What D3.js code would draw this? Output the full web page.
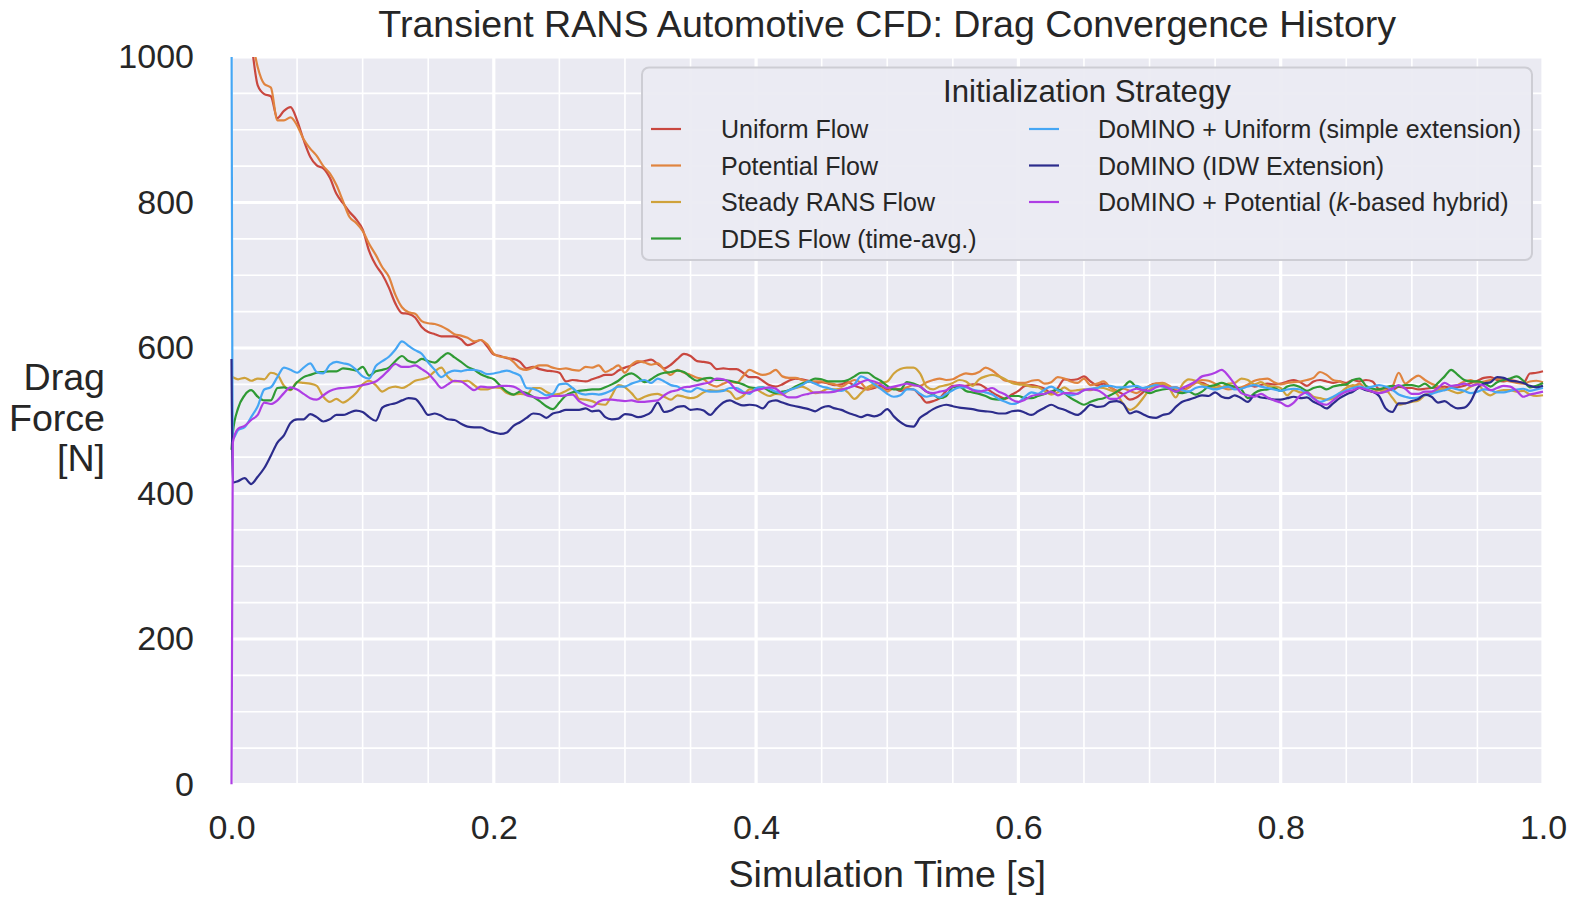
<!DOCTYPE html>
<html><head><meta charset="utf-8">
<script src="https://cdn.jsdelivr.net/npm/d3@7"></script>
<style>
body{margin:0;background:#fff}
svg{display:block}
text{font-family:"Liberation Sans",Arial,Helvetica,sans-serif;fill:#262626}
</style>
</head><body>
<svg id="chart" width="1578" height="902"></svg>
<script>
// ---------------- DATA ----------------
const time = [0,0.001,
0.005,0.01,0.015,0.02,0.025,0.03,0.035,0.04,0.045,0.05,
0.055,0.06,0.065,0.07,0.075,0.08,0.085,0.09,0.095,0.1,
0.105,0.11,0.115,0.12,0.125,0.13,0.135,0.14,0.145,0.15,
0.155,0.16,0.165,0.17,0.175,0.18,0.185,0.19,0.195,0.2,
0.205,0.21,0.215,0.22,0.225,0.23,0.235,0.24,0.245,0.25,
0.255,0.26,0.265,0.27,0.275,0.28,0.285,0.29,0.295,0.3,
0.305,0.31,0.315,0.32,0.325,0.33,0.335,0.34,0.345,0.35,
0.355,0.36,0.365,0.37,0.375,0.38,0.385,0.39,0.395,0.4,
0.405,0.41,0.415,0.42,0.425,0.43,0.435,0.44,0.445,0.45,
0.455,0.46,0.465,0.47,0.475,0.48,0.485,0.49,0.495,0.5,
0.505,0.51,0.515,0.52,0.525,0.53,0.535,0.54,0.545,0.55,
0.555,0.56,0.565,0.57,0.575,0.58,0.585,0.59,0.595,0.6,
0.605,0.61,0.615,0.62,0.625,0.63,0.635,0.64,0.645,0.65,
0.655,0.66,0.665,0.67,0.675,0.68,0.685,0.69,0.695,0.7,
0.705,0.71,0.715,0.72,0.725,0.73,0.735,0.74,0.745,0.75,
0.755,0.76,0.765,0.77,0.775,0.78,0.785,0.79,0.795,0.8,
0.805,0.81,0.815,0.82,0.825,0.83,0.835,0.84,0.845,0.85,
0.855,0.86,0.865,0.87,0.875,0.88,0.885,0.89,0.895,0.9,
0.905,0.91,0.915,0.92,0.925,0.93,0.935,0.94,0.945,0.95,
0.955,0.96,0.965,0.97,0.975,0.98,0.985,0.99,0.995,1.0];

const uniformFlow = [1150,1140,
1110,1070,1020,961,949,946,916,926,931,913,
886,863,851,847,834,812,799,787,777,763,
733,714,701,683,661,648,647,642,629,622,
619,616,616,616,612,604,607,611,602,591,
589,586,585,581,572,574,571,569,568,566,
554,556,555,554,557,560,563,563,569,573,
576,580,582,584,578,572,577,585,592,589,
582,581,579,571,572,571,571,566,560,560,
555,549,547,550,555,558,557,555,552,553,
551,549,550,553,548,545,543,545,548,543,
545,541,544,543,535,525,527,531,541,548,
548,548,550,550,545,539,534,530,536,541,
548,549,547,544,538,545,557,556,557,561,
554,549,551,546,541,536,529,532,539,548,
551,550,545,546,543,546,553,552,548,545,
546,547,545,545,549,547,549,551,550,551,
554,556,553,548,554,556,554,552,554,552,
556,554,556,554,544,544,542,547,545,545,
543,544,545,546,547,545,546,548,552,555,
559,560,556,554,556,554,552,565,566,568];

const potentialFlow = [1180,1170,
1126,1081,1031,986,963,958,913,913,917,906,
887,874,864,850,840,824,802,780,772,761,
743,728,711,698,673,656,649,647,637,634,
633,630,625,619,617,614,609,611,605,592,
588,587,581,572,570,573,576,576,573,571,
572,570,569,574,573,576,567,571,576,566,
577,582,580,577,579,570,563,570,566,563,
559,557,550,547,551,554,552,561,570,566,
563,565,570,561,559,559,556,554,554,554,
552,550,547,552,556,552,543,547,545,540,
545,543,546,549,548,553,556,558,556,557,
562,565,564,567,573,569,562,555,554,552,
552,555,556,551,553,560,558,554,552,558,
549,551,554,546,541,544,541,538,543,548,
551,552,548,542,541,546,552,556,555,551,
546,543,544,546,550,555,557,558,553,550,
552,553,554,556,559,567,563,556,554,549,
547,551,543,540,542,540,546,566,551,557,
562,556,551,547,542,547,549,554,556,552,
554,556,558,556,554,552,551,554,555,553];

const steadyRans = [561,560,
557,559,555,558,557,566,563,548,542,553,
552,551,548,533,526,530,525,530,538,550,
555,549,540,545,547,545,549,555,557,560,
568,573,560,554,554,555,549,543,543,546,
545,538,536,537,536,545,545,540,536,537,
541,545,530,529,527,523,522,535,549,546,
538,529,533,536,537,533,529,535,533,531,
533,539,542,541,542,540,530,534,543,543,
538,534,537,536,542,545,547,543,538,540,
544,543,544,539,530,538,546,550,552,554,
565,571,573,573,565,547,543,547,549,552,
556,554,548,557,561,563,561,557,552,550,
549,547,546,541,536,539,546,541,542,543,
542,546,545,542,537,523,515,520,531,543,
547,551,545,532,550,557,555,550,548,546,
546,551,552,558,556,550,553,548,547,545,
535,542,539,539,533,531,529,531,538,545,
549,547,543,540,538,542,532,522,524,526,
528,535,539,542,544,541,538,541,547,551,
540,535,540,542,542,540,541,536,534,535];

const ddesFlow = [460,483,
517,535,542,533,528,528,545,546,543,553,
560,563,566,567,568,568,572,571,569,574,
562,568,570,573,582,589,582,580,585,582,
580,587,593,587,581,574,570,564,560,557,
548,540,536,540,538,533,527,520,516,525,
535,539,541,542,543,543,546,550,555,562,
565,560,553,557,563,566,567,569,567,560,
555,558,559,556,556,555,553,550,546,545,
546,541,538,540,542,547,551,554,558,557,
554,554,554,556,561,566,566,560,555,548,
543,543,553,551,547,540,536,531,534,546,
547,541,539,537,534,530,529,531,534,534,
531,531,534,537,540,543,538,531,526,522,
526,529,531,535,540,546,554,546,542,538,
541,543,544,540,538,540,536,540,547,549,
552,549,547,543,531,538,542,543,545,541,
547,549,546,541,545,547,543,547,549,550,
556,558,548,544,543,546,548,547,549,549,
547,551,545,552,561,570,563,556,554,554,
552,547,553,556,558,561,555,546,548,552];

const dominoUniform = [1100,475,
487,491,505,520,543,546,560,573,570,566,
573,579,567,565,577,581,579,577,570,561,
558,575,582,588,598,609,603,597,592,580,
570,560,566,569,568,570,570,568,564,565,
567,569,566,562,545,544,540,535,537,550,
551,545,538,536,537,536,538,542,547,547,
551,554,556,552,558,554,549,547,542,540,
545,542,540,540,541,545,545,540,537,545,
546,544,540,538,542,545,549,554,551,547,
545,542,541,545,550,561,557,550,544,537,
533,535,543,543,537,533,535,532,537,542,
546,546,543,541,539,536,530,526,523,525,
533,539,537,543,547,542,538,535,537,542,
544,545,548,548,546,546,547,548,545,547,
549,547,545,546,542,540,545,547,545,543,
545,547,543,544,547,549,547,545,543,541,
543,544,543,537,531,526,529,533,538,542,
545,547,545,547,549,547,543,536,533,531,
532,535,537,540,542,545,543,541,538,540,
543,542,539,539,541,543,544,541,543,545];

const dominoIdw = [585,415,
417,421,413,423,435,452,470,480,497,502,
502,509,505,499,502,508,508,511,514,512,
505,500,518,522,524,528,531,530,520,508,
510,507,502,501,496,492,491,491,487,484,
482,484,493,498,504,510,509,504,510,512,
515,515,515,517,513,514,505,502,503,509,
508,505,507,512,525,512,514,519,520,515,
516,514,508,517,525,528,524,521,522,521,
517,526,528,525,522,520,518,516,513,518,
520,517,515,511,508,505,508,506,509,516,
506,498,493,492,504,510,516,520,522,520,
518,517,516,514,513,512,510,510,513,514,
511,508,513,518,522,518,515,511,508,514,
522,519,520,526,527,523,510,513,509,505,
504,508,510,519,526,529,532,535,534,539,
533,531,535,531,526,535,532,531,529,529,
531,533,531,532,526,522,517,524,531,536,
540,545,542,540,534,517,512,524,524,527,
530,536,533,525,527,521,517,518,527,545,
551,553,560,559,555,554,552,548,546,548];

const dominoPotential = [0,470,
489,493,501,508,525,523,528,538,546,543,
537,531,529,535,541,544,545,546,547,549,
551,554,561,570,578,574,574,576,571,565,
555,545,550,555,554,548,542,547,546,546,
548,548,547,542,535,533,531,531,534,534,
535,536,527,522,519,526,529,529,528,527,
528,526,526,527,528,535,540,542,546,547,
549,551,553,558,557,552,542,538,539,542,
544,546,544,537,532,532,535,537,539,539,
539,540,543,545,548,553,556,554,550,545,
547,549,551,549,547,540,538,540,542,547,
549,547,542,540,542,545,540,536,529,526,
529,534,536,537,540,535,538,538,537,542,
543,542,537,530,530,536,541,544,542,541,
546,548,544,540,545,549,554,561,563,566,
570,562,550,538,535,533,537,532,528,525,
520,525,535,539,531,524,522,528,535,540,
542,545,543,540,538,540,544,549,544,537,
537,540,540,545,552,548,549,551,548,550,
548,542,545,548,547,541,533,536,538,540];

const seriesLabels = [
  ["Uniform Flow"],
  ["Potential Flow"],
  ["Steady RANS Flow"],
  ["DDES Flow (time-avg.)"],
  ["DoMINO + Uniform (simple extension)"],
  ["DoMINO (IDW Extension)"],
  ["DoMINO + Potential (", "k", "-based hybrid)"]
];
const seriesColors = ["#c9473f","#e0843f","#cfa23a","#2f9a34","#45a6f4","#2c2c8c","#ae3ee4"];
const seriesValues = [uniformFlow, potentialFlow, steadyRans, ddesFlow, dominoUniform, dominoIdw, dominoPotential];
const yTickValues = [0,200,400,600,800,1000];
const xTickValues = [0,0.2,0.4,0.6,0.8,1.0];
const titleText = "Transient RANS Automotive CFD: Drag Convergence History";
const xLabelText = "Simulation Time [s]";
const yLabelLines = ["Drag","Force","[N]"];
const legendTitle = "Initialization Strategy";

// ---------------- LAYOUT ----------------
const P = {left:231.5, right:1543, top:57, bottom:784.5};
const x = d3.scaleLinear().domain([0,1]).range([P.left,P.right]);
const y = d3.scaleLinear().domain([0,1000]).range([P.bottom,P.top]);
const svg = d3.select("#chart");

svg.append("rect").attr("x",0).attr("y",0).attr("width",1578).attr("height",902).attr("fill","#ffffff");
svg.append("rect").attr("x",P.left).attr("y",P.top)
  .attr("width",P.right-P.left).attr("height",P.bottom-P.top).attr("fill","#eaeaf2");

// grid
const grid = svg.append("g");
const isMajorX = v => Math.abs(v*5 - Math.round(v*5)) < 1e-6;
const isMajorY = v => Math.abs(v/200 - Math.round(v/200)) < 1e-6;
grid.selectAll("line.gx").data(x.ticks(20)).join("line")
  .attr("x1",d=>x(d)).attr("x2",d=>x(d)).attr("y1",P.top).attr("y2",P.bottom)
  .attr("stroke","#ffffff").attr("stroke-width",d=>isMajorX(d)?3.2:1.6);
grid.selectAll("line.gy").data(y.ticks(20)).join("line")
  .attr("y1",d=>y(d)).attr("y2",d=>y(d)).attr("x1",P.left).attr("x2",P.right)
  .attr("stroke","#ffffff").attr("stroke-width",d=>isMajorY(d)?3.2:1.6);

// clip (slightly wider horizontally so lines at t=0 keep full width)
svg.append("clipPath").attr("id","plotclip").append("rect")
  .attr("x",P.left-3).attr("y",P.top).attr("width",P.right-P.left+6).attr("height",P.bottom-P.top);

const line = d3.line().x((d,i)=>x(time[i])).y(d=>y(d)).curve(d3.curveMonotoneX);
const lg = svg.append("g").attr("clip-path","url(#plotclip)");
seriesValues.forEach((vals,k)=>{
  lg.append("path").datum(vals).attr("d",line)
    .attr("fill","none").attr("stroke",seriesColors[k]).attr("stroke-width",2.2)
    .attr("stroke-linejoin","round").attr("stroke-linecap","butt");
});

// axes
const yAxis = svg.append("g").attr("transform",`translate(${P.left},0)`)
  .call(d3.axisLeft(y).tickValues(yTickValues).tickSize(0).tickPadding(37.5).tickFormat(d3.format("d")));
yAxis.select(".domain").remove();
yAxis.selectAll("text").attr("font-size",34).attr("fill","#262626")
  .style("font-family",'"Liberation Sans",Arial,sans-serif');

const xAxis = svg.append("g").attr("transform",`translate(0,${P.bottom})`)
  .call(d3.axisBottom(x).tickValues(xTickValues).tickSize(0).tickPadding(30.5).tickFormat(d3.format(".1f")));
xAxis.select(".domain").remove();
xAxis.selectAll("text").attr("font-size",34).attr("fill","#262626")
  .style("font-family",'"Liberation Sans",Arial,sans-serif');

// title & labels
svg.append("text").attr("x",(P.left+P.right)/2).attr("y",37).attr("text-anchor","middle")
  .attr("font-size",37.6).text(titleText);
svg.append("text").attr("x",(P.left+P.right)/2).attr("y",887).attr("text-anchor","middle")
  .attr("font-size",37.6).text(xLabelText);
const yl = svg.append("text").attr("text-anchor","end").attr("font-size",37.6);
yLabelLines.forEach((s,i)=>{
  yl.append("tspan").attr("x",105).attr("y",390+i*40.5).text(s);
});

// legend
const L = {x:642, y:67.5, w:890, h:192.5};
svg.append("rect").attr("x",L.x).attr("y",L.y).attr("width",L.w).attr("height",L.h)
  .attr("rx",7).attr("fill","#ebebf2").attr("fill-opacity",0.95)
  .attr("stroke","#cdcdd4").attr("stroke-width",2);
svg.append("text").attr("x",1087).attr("y",102).attr("text-anchor","middle")
  .attr("font-size",31.2).text(legendTitle);
const rowY = [129,165.5,202,238.5];
const colX = [{l:651,t:721},{l:1029,t:1098}];
seriesLabels.forEach((parts,k)=>{
  const col = k<4?0:1, row = k<4?k:k-4;
  const cy = rowY[row];
  svg.append("line").attr("x1",colX[col].l).attr("x2",colX[col].l+30)
    .attr("y1",cy).attr("y2",cy).attr("stroke",seriesColors[k]).attr("stroke-width",2.2);
  const t = svg.append("text").attr("x",colX[col].t).attr("y",cy+9).attr("font-size",25);
  parts.forEach((p,j)=>{
    const ts = t.append("tspan").text(p);
    if (parts.length===3 && j===1) ts.attr("font-style","italic");
  });
});
</script>
</body></html>
